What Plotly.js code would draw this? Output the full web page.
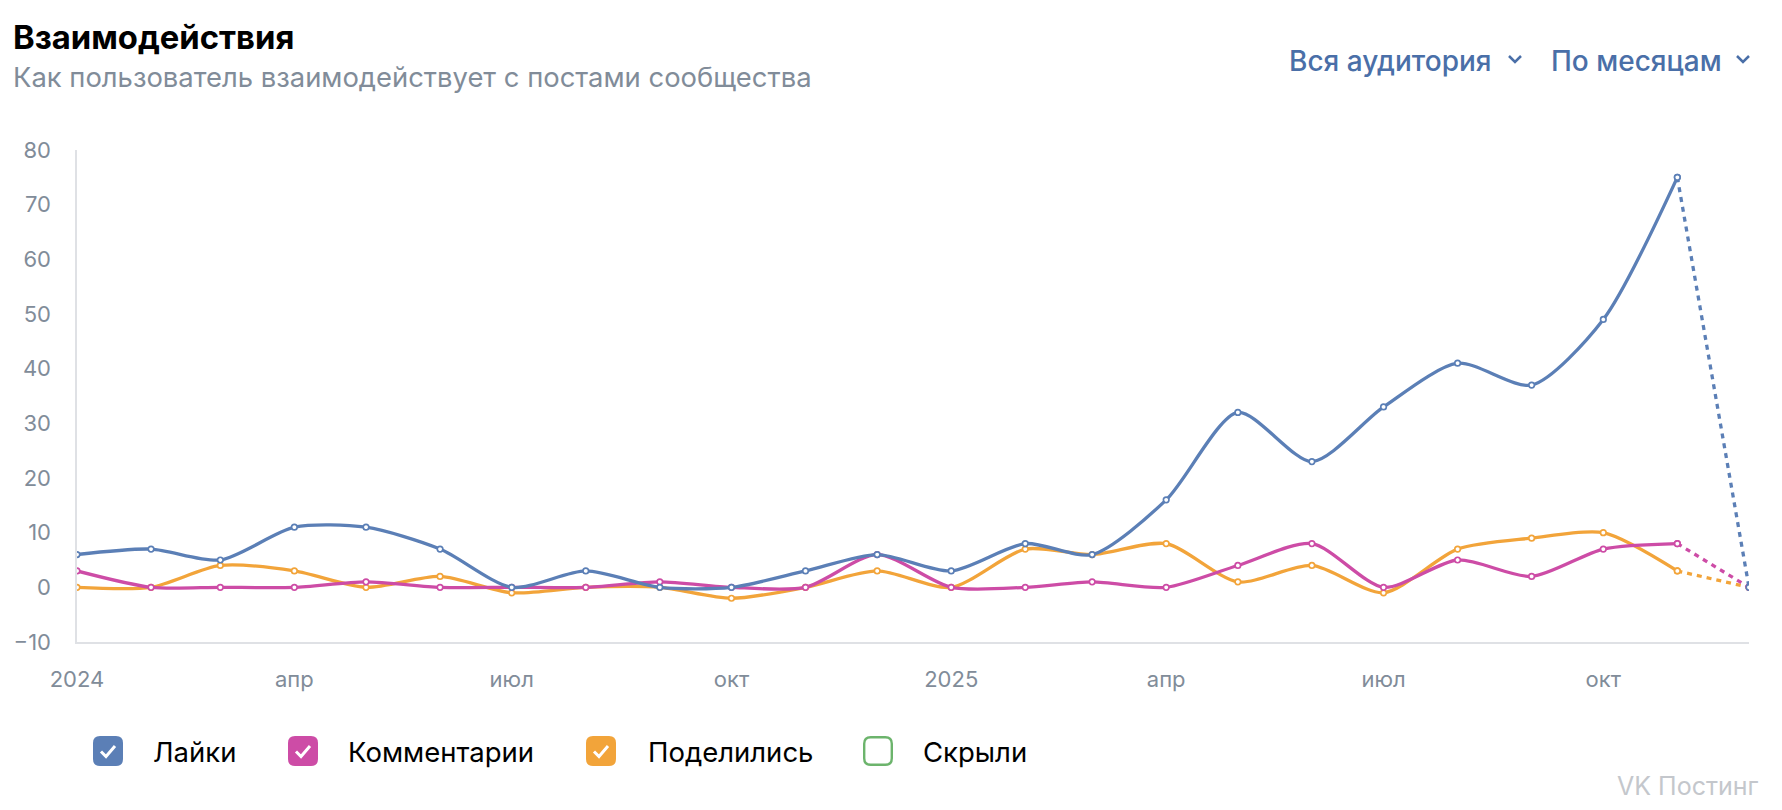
<!DOCTYPE html>
<html><head><meta charset="utf-8">
<script src="https://cdn.plot.ly/plotly-3.0.1.min.js"></script>
<style>html,body{margin:0;padding:0;background:#fff;}#chart{width:1782px;height:810px;}</style>
</head><body><div id="chart"></div>
<script>
// ---- data ----
const months = ['2024-01-01','2024-02-01','2024-03-01','2024-04-01','2024-05-01','2024-06-01','2024-07-01','2024-08-01','2024-09-01','2024-10-01','2024-11-01','2024-12-01',
                '2025-01-01','2025-02-01','2025-03-01','2025-04-01','2025-05-01','2025-06-01','2025-07-01','2025-08-01','2025-09-01','2025-10-01','2025-11-01','2025-12-01'];
const likes    = [6,7,5,11,11,7,0,3,0,0,3,6, 3,8,6,16,32,23,33,41,37,49,75,0];
const comments = [3,0,0,0,1,0,0,0,1,0,0,6, 0,0,1,0,4,8,0,5,2,7,8,0];
const shares   = [0,0,4,3,0,2,-1,0,0,-2,0,3, 0,7,6,8,1,4,-1,7,9,10,3,0];
const tickVals = ['2024-01-01','2024-04-01','2024-07-01','2024-10-01','2025-01-01','2025-04-01','2025-07-01','2025-10-01'];
const tickText = ['2024','апр','июл','окт','2025','апр','июл','окт'];
const seriesNames  = ['Лайки','Комментарии','Поделились','Скрыли'];
const seriesColors = ['#5b7fb6','#cd4ca6','#f2a43a','#6cb46c'];
const seriesOn     = [true,true,true,false];
const titleText = 'Взаимодействия';
const subtitleText = 'Как пользователь взаимодействует с постами сообщества';
const dropdowns = ['Вся аудитория','По месяцам'];
const watermark = 'VK Постинг';

// ---- layout geometry ----
const W = 1782, H = 810, ML = 77, MR = 33, MT = 150, MB = 168;
const PW = W - ML - MR, PH = H - MT - MB;
const X = px => (px - ML) / PW;
const Y = py => (H - MB - py) / PH;
const FONT = 'Inter, Roboto, sans-serif';

const seriesData = [likes, comments, shares];
const n = months.length;
const traces = [];
const order = [2, 1, 0];
order.forEach(i => {
  const vals = seriesData[i];
  traces.push({
    x: months.slice(n - 2), y: vals.slice(n - 2), type: 'scatter', mode: 'lines+markers',
    line: {color: seriesColors[i], width: 3.3, dash: '5px,5px'},
    marker: {size: 5.5, color: '#fff', line: {color: seriesColors[i], width: 1.7}},
    hoverinfo: 'skip', showlegend: false
  });
  traces.push({
    x: months.slice(0, n - 1), y: vals.slice(0, n - 1), type: 'scatter', mode: 'lines+markers',
    name: seriesNames[i],
    line: {color: seriesColors[i], width: 3.3, shape: 'spline', smoothing: 0.75},
    marker: {size: 5.5, color: '#fff', line: {color: seriesColors[i], width: 1.7}},
    hoverinfo: 'skip', showlegend: false
  });
});

const annotations = [];
const shapes = [];
function txt(text, px, py, size, color, weight, anchor) {
  annotations.push({text, x: X(px), y: Y(py), xref: 'paper', yref: 'paper', xanchor: anchor || 'left', yanchor: 'middle',
    showarrow: false, font: {family: FONT, size, color, weight: weight || 400}});
}
txt(titleText, 11, 37, 32.8, '#000000', 700);
txt(subtitleText, 11, 77, 27.4, '#818c99', 400);
txt(dropdowns[0], 1287, 61, 28, '#4a6fa8', 500);
txt(dropdowns[1], 1549, 61, 28, '#4a6fa8', 500);
function chevron(cx, cy) {
  shapes.push({type: 'path', xref: 'paper', yref: 'paper',
    path: `M ${X(cx-6)},${Y(cy-3)} L ${X(cx)},${Y(cy+3)} L ${X(cx+6)},${Y(cy-3)}`,
    line: {color: '#4a6fa8', width: 2.5}});
}
chevron(1515, 59);
chevron(1743, 59);

function roundRect(x, y, w, h, r) {
  return `M ${X(x+r)},${Y(y)} L ${X(x+w-r)},${Y(y)} Q ${X(x+w)},${Y(y)} ${X(x+w)},${Y(y+r)} ` +
         `L ${X(x+w)},${Y(y+h-r)} Q ${X(x+w)},${Y(y+h)} ${X(x+w-r)},${Y(y+h)} ` +
         `L ${X(x+r)},${Y(y+h)} Q ${X(x)},${Y(y+h)} ${X(x)},${Y(y+h-r)} ` +
         `L ${X(x)},${Y(y+r)} Q ${X(x)},${Y(y)} ${X(x+r)},${Y(y)} Z`;
}
const boxX = [93, 288, 586, 863];
const labelX = [151, 346, 646, 921];
const boxY = 736, boxS = 30;
seriesNames.forEach((name, i) => {
  if (seriesOn[i]) {
    shapes.push({type: 'path', xref: 'paper', yref: 'paper', path: roundRect(boxX[i], boxY, boxS, boxS, 7),
      fillcolor: seriesColors[i], line: {width: 0}});
    const bx = boxX[i], by = boxY;
    shapes.push({type: 'path', xref: 'paper', yref: 'paper',
      path: `M ${X(bx+8)},${Y(by+15.5)} L ${X(bx+13)},${Y(by+20.5)} L ${X(bx+22)},${Y(by+10)}`,
      line: {color: '#ffffff', width: 3}});
  } else {
    shapes.push({type: 'path', xref: 'paper', yref: 'paper', path: roundRect(boxX[i]+1.2, boxY+1.2, boxS-2.4, boxS-2.4, 6.5),
      fillcolor: '#ffffff', line: {color: seriesColors[i], width: 2.4}});
  }
  txt(name, labelX[i], 752, 27.5, '#000000', 400);
});
txt(watermark, 1615, 786, 25, '#c4c7cc', 400);

const layout = {
  width: W, height: H,
  margin: {l: ML, r: MR, t: MT, b: MB, pad: 0},
  paper_bgcolor: '#ffffff', plot_bgcolor: '#ffffff',
  showlegend: false,
  font: {family: FONT, color: '#818c99'},
  xaxis: {
    type: 'date', range: [months[0], months[n - 1]],
    tickvals: tickVals, ticktext: tickText, ticks: '', showgrid: false, zeroline: false,
    showline: true, linecolor: '#dfe1e5', linewidth: 1.6,
    tickfont: {family: FONT, size: 22, color: '#818c99'}, ticklabelstandoff: 17
  },
  yaxis: {
    range: [-10, 80], dtick: 10, tick0: 0, ticks: '', showgrid: false, zeroline: false,
    showline: true, linecolor: '#dfe1e5', linewidth: 1.6,
    tickfont: {family: FONT, size: 22, color: '#818c99'}, ticklabelstandoff: 20
  },
  annotations, shapes
};
Plotly.newPlot('chart', traces, layout, {staticPlot: true, displayModeBar: false});
</script></body></html>
